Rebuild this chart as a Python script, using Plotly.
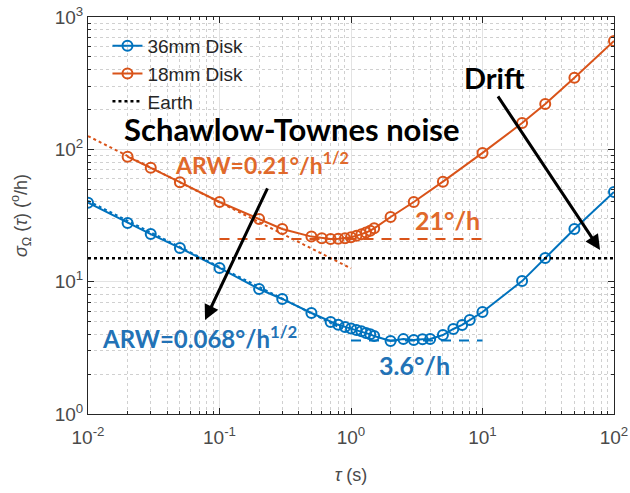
import plotly.graph_objects as go

# Allan deviation of the two disk gyros (tau in s, sigma in deg/h)
tau_36 = [0.01, 0.02, 0.03, 0.05, 0.1, 0.2, 0.3, 0.5, 0.7, 0.8, 0.9, 1.0, 1.1, 1.2, 1.3,
          1.4, 1.5, 2, 2.5, 3, 3.5, 4, 5, 6, 7, 8, 10, 20, 30, 50, 100]
sig_36 = [39.5, 27.8, 22.9, 18.0, 12.7, 8.8, 7.4, 5.8, 4.96, 4.72, 4.55, 4.42, 4.32, 4.22, 4.1,
          4.0, 3.88, 3.56, 3.68, 3.62, 3.67, 3.69, 3.95, 4.39, 4.71, 5.13, 5.9, 10.1, 15.1, 25.0, 47.6]

tau_18 = [0.02, 0.03, 0.05, 0.1, 0.2, 0.3, 0.5, 0.6, 0.7, 0.8, 0.9, 1.0, 1.1, 1.2, 1.3,
          1.4, 1.5, 2, 3, 5, 10, 20, 30, 50, 100]
sig_18 = [88, 72.5, 56.5, 40, 29.8, 25, 21.9, 21.3, 21.0, 21.1, 21.3, 21.7, 22.2, 22.8, 23.5,
          24.3, 25.3, 30.8, 40, 57, 94, 158, 220, 347, 660]

# Earth rotation rate (deg/h)
earth_rate = 15.04
earth_tau = [0.01, 100]

# Angle random walk (deg/sqrt(h)) and bias instability (deg/h)
arw_36, arw_18 = 0.068, 0.21
arw_tau = [0.01, 1]
bias_36, bias_18 = 3.6, 21
bias_tau_36 = [1, 10]
bias_tau_18 = [0.1, 10]

BLUE = "#0072BD"
ORANGE = "#D95319"
BLUE_TXT = "#2272B6"
ORANGE_TXT = "#E0692B"
AXIS_TXT = "#4a4a4a"


def arw_line(arw, taus):
    # sigma(tau) = ARW / sqrt(tau [h]) -> deg/h with tau in seconds
    return [arw * 60 / t ** 0.5 for t in taus]


fig = go.Figure()

fig.add_trace(go.Scatter(
    x=arw_tau, y=arw_line(arw_36, arw_tau), mode="lines",
    line=dict(color=BLUE, width=2, dash="dot"), showlegend=False, hoverinfo="skip"))
fig.add_trace(go.Scatter(
    x=arw_tau, y=arw_line(arw_18, arw_tau), mode="lines",
    line=dict(color=ORANGE, width=2, dash="dot"), showlegend=False, hoverinfo="skip"))
fig.add_trace(go.Scatter(
    x=bias_tau_18, y=[bias_18] * 2, mode="lines",
    line=dict(color=ORANGE, width=2, dash="10px,8px"), showlegend=False, hoverinfo="skip"))
fig.add_trace(go.Scatter(
    x=bias_tau_36, y=[bias_36] * 2, mode="lines",
    line=dict(color=BLUE, width=2, dash="10px,8px"), showlegend=False, hoverinfo="skip"))

fig.add_trace(go.Scatter(
    x=tau_36, y=sig_36, mode="lines+markers", name="36mm Disk",
    line=dict(color=BLUE, width=2),
    marker=dict(symbol="circle-open", size=10, color=BLUE, line=dict(width=2, color=BLUE))))
fig.add_trace(go.Scatter(
    x=tau_18, y=sig_18, mode="lines+markers", name="18mm Disk",
    line=dict(color=ORANGE, width=2),
    marker=dict(symbol="circle-open", size=10, color=ORANGE, line=dict(width=2, color=ORANGE))))
fig.add_trace(go.Scatter(
    x=earth_tau, y=[earth_rate] * 2, mode="lines", name="Earth",
    line=dict(color="black", width=2.5, dash="dot")))

x_major = [0.01, 0.1, 1, 10, 100]
x_labels = ["10<sup>-2</sup>", "10<sup>-1</sup>", "10<sup>0</sup>", "10<sup>1</sup>", "10<sup>2</sup>"]
y_major = [1, 10, 100, 1000]
y_labels = ["10<sup>0</sup>", "10<sup>1</sup>", "10<sup>2</sup>", "10<sup>3</sup>"]
x_minor = [m * 10 ** e for e in range(-2, 2) for m in range(2, 10)]
y_minor = [m * 10 ** e for e in range(0, 3) for m in range(2, 10)]

axis_common = dict(
    type="log", showline=True, linecolor="#262626", linewidth=1, mirror="ticks",
    ticks="inside", ticklen=6, tickcolor="#262626", automargin=False,
    showgrid=True, gridcolor="#e3e3e3", gridwidth=1, zeroline=False,
    tickfont=dict(family="Liberation Sans", size=19, color=AXIS_TXT),
)

fig.update_xaxes(
    **axis_common, range=[-2, 2], tickvals=x_major, ticktext=x_labels, ticklabelstandoff=6,
    minor=dict(tickvals=x_minor, ticks="inside", ticklen=3, tickcolor="#262626",
               showgrid=True, gridcolor="#d0d0d0", griddash="dot"),
    title=dict(text="<i>τ</i> (s)", font=dict(family="Liberation Sans", size=18, color=AXIS_TXT),
               standoff=21),
)
fig.update_yaxes(
    **axis_common, range=[0, 3], tickvals=y_major, ticktext=y_labels,
    minor=dict(tickvals=y_minor, ticks="inside", ticklen=3, tickcolor="#262626",
               showgrid=True, gridcolor="#d0d0d0", griddash="dot"),
    title=dict(text="<i>σ</i><sub>Ω</sub> (<i>τ</i>) (<sup>o</sup>/h)",
               font=dict(family="Liberation Sans", size=18, color=AXIS_TXT), standoff=22),
)

BOLD = "Lato"


def label(text, x, y, color, size):
    fig.add_annotation(x=x, y=y, xref="x", yref="y", text=f"<b>{text}</b>", showarrow=False,
                       font=dict(family=BOLD, size=size, color=color),
                       xanchor="left", yanchor="middle")


# positions in log10 units (log axes), anchored at the left edge of each text
label("Schawlow-Townes noise", -1.745, 2.152, "black", 31)
label("ARW=0.21°/h<sup>1/2</sup>", -1.353, 1.890, ORANGE_TXT, 23)
label("21°/h", 0.472, 1.466, ORANGE_TXT, 25)
label("Drift", 0.845, 2.540, "black", 29)
label("ARW=0.068°/h<sup>1/2</sup>", -1.909, 0.585, BLUE_TXT, 24)
label("3.6°/h", 0.199, 0.370, BLUE_TXT, 25)

# arrows
fig.add_annotation(x=-1.11, y=0.71, ax=-0.63, ay=1.716, xref="x", yref="y", axref="x", ayref="y",
                   text="", showarrow=True, arrowhead=2, arrowsize=1, arrowwidth=3, arrowcolor="black")
fig.add_annotation(x=1.894, y=1.24, ax=1.11, ay=2.411, xref="x", yref="y", axref="x", ayref="y",
                   text="", showarrow=True, arrowhead=2, arrowsize=1, arrowwidth=3, arrowcolor="black")

fig.update_layout(
    width=630, height=493,
    margin=dict(l=88, r=16, t=17, b=79),
    paper_bgcolor="white", plot_bgcolor="white",
    legend=dict(x=0.037, y=0.975, xanchor="left", yanchor="top", bgcolor="rgba(0,0,0,0)",
                font=dict(family="Liberation Sans", size=19, color="#262626"),
                tracegroupgap=0, itemwidth=30),
    showlegend=True,
)

fig.write_html("out.html")
